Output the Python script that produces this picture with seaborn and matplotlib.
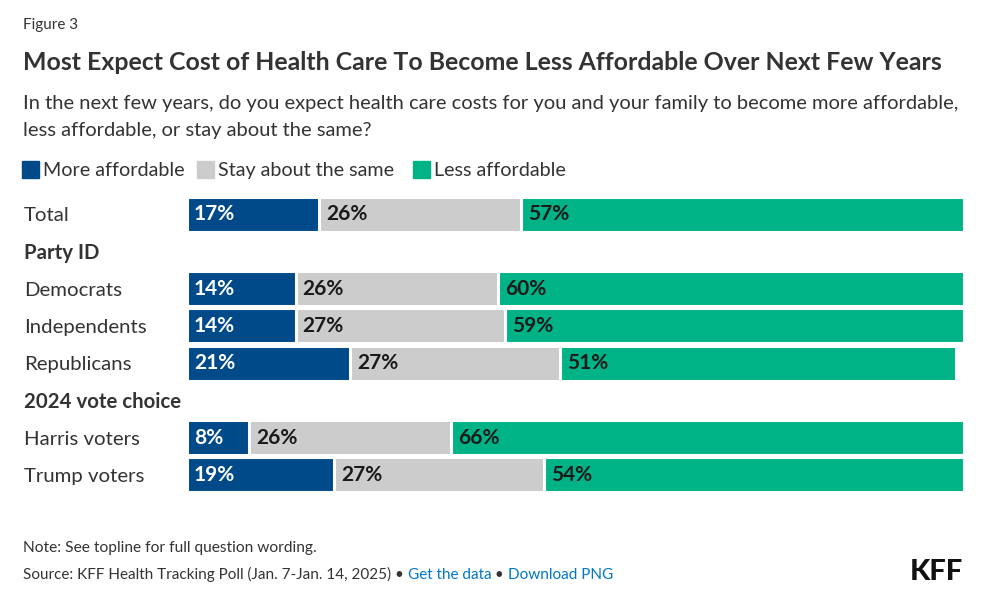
import pandas as pd
import seaborn as sns
import matplotlib.pyplot as plt
from matplotlib.transforms import offset_copy

# chart values
groups = ['Total', 'Democrats', 'Independents', 'Republicans', 'Harris voters', 'Trump voters']
more_affordable = [17, 14, 14, 21, 8, 19]
stay_same = [26, 26, 27, 27, 26, 27]
less_affordable = [57, 60, 59, 51, 66, 54]
row_order = ['Total', 'Party ID', 'Democrats', 'Independents', 'Republicans',
             '2024 vote choice', 'Harris voters', 'Trump voters']
headers = ['Party ID', '2024 vote choice']
series_names = ['More affordable', 'Stay about the same', 'Less affordable']

blue = '#004a89'
gray = '#cccccc'
green = '#00b386'
txt = '#333333'

df = pd.DataFrame({'group': groups, 'more': more_affordable,
                   'same': stay_same, 'less': less_affordable})
df['c1'] = df['more']
df['c2'] = df['more'] + df['same']
df['c3'] = df['c2'] + df['less']

sns.set_style('white')
plt.rcParams['font.family'] = ['Lato', 'DejaVu Sans']

W, H = 995, 602
fig = plt.figure(figsize=(W / 100, H / 100), dpi=100)
ax = fig.add_axes([186.8 / W, 1 - 493.6 / H, (964 - 186.8) / W, (493.6 - 195.4) / H])

# stacked bars: draw the running totals longest first
for col, c in [('c3', green), ('c2', gray), ('c1', blue)]:
    sns.barplot(data=df, y='group', x=col, order=row_order, color=c, saturation=1,
                errorbar=None, width=0.94, edgecolor='white', linewidth=2.2, ax=ax)

ax.set_xlim(0, 100)
ax.set_ylim(7.5, -0.5)
ax.set_xlabel('')
ax.set_ylabel('')
ax.set_xticks([])
sns.despine(ax=ax, left=True, bottom=True)

ax.tick_params(axis='y', length=0, pad=(186.8 - 24) * 0.72)
for lab in ax.get_yticklabels():
    lab.set_horizontalalignment('left')
    lab.set_fontsize(14.7)
    lab.set_color(txt)
    if lab.get_text() in headers:
        lab.set_fontweight('bold')

# value labels
tr = offset_copy(ax.transData, fig=fig, x=7 * 0.72, y=0, units='points')
for _, r in df.iterrows():
    y = row_order.index(r['group'])
    ax.text(0, y, f"{r['more']}%", transform=tr, ha='left', va='center',
            color='white', fontsize=15, fontweight='bold')
    ax.text(r['c1'], y, f"{r['same']}%", transform=tr, ha='left', va='center',
            color='#1a1a1a', fontsize=15, fontweight='bold')
    ax.text(r['c2'], y, f"{r['less']}%", transform=tr, ha='left', va='center',
            color='#1a1a1a', fontsize=15, fontweight='bold')

def fy(py):
    return 1 - py / H

fig.text(23 / W, fy(29), 'Figure 3', fontsize=11, color=txt, va='baseline')
fig.text(23 / W, fy(70), 'Most Expect Cost of Health Care To Become Less Affordable Over Next Few Years',
         fontsize=17.9, fontweight='bold', color=txt, va='baseline')
fig.text(23 / W, fy(109), 'In the next few years, do you expect health care costs for you and your family to become more affordable,',
         fontsize=14.5, color=txt, va='baseline')
fig.text(23 / W, fy(136), 'less affordable, or stay about the same?',
         fontsize=14.5, color=txt, va='baseline')

# legend
for x0, name, c in [(22, series_names[0], blue), (197, series_names[1], gray), (413, series_names[2], green)]:
    fig.patches.append(plt.Rectangle((x0 / W, fy(178)), 17 / W, 17 / H, transform=fig.transFigure,
                                     color=c, figure=fig))
    fig.text((x0 + 21) / W, fy(176), name, fontsize=14.2, color=txt, va='baseline')

fig.text(23 / W, fy(552), 'Note: See topline for full question wording.', fontsize=11.2, color=txt, va='baseline')
src = fig.text(23 / W, fy(579), 'Source: KFF Health Tracking Poll (Jan. 7-Jan. 14, 2025) \u2022 ',
               fontsize=11, color=txt, va='baseline')
fig.canvas.draw()
bb = src.get_window_extent()
link1 = fig.text(bb.x1 / W, fy(579), 'Get the data', fontsize=11, color='#0077c8', va='baseline')
bb = link1.get_window_extent()
dot = fig.text(bb.x1 / W, fy(579), ' \u2022 ', fontsize=11, color=txt, va='baseline')
bb = dot.get_window_extent()
fig.text(bb.x1 / W, fy(579), 'Download PNG', fontsize=11, color='#0077c8', va='baseline')

fig.text(963 / W, fy(580), 'KFF', fontsize=21, fontweight='black', color='#111111',
         ha='right', va='baseline')

fig.savefig('out.png', dpi=100, facecolor='white')
